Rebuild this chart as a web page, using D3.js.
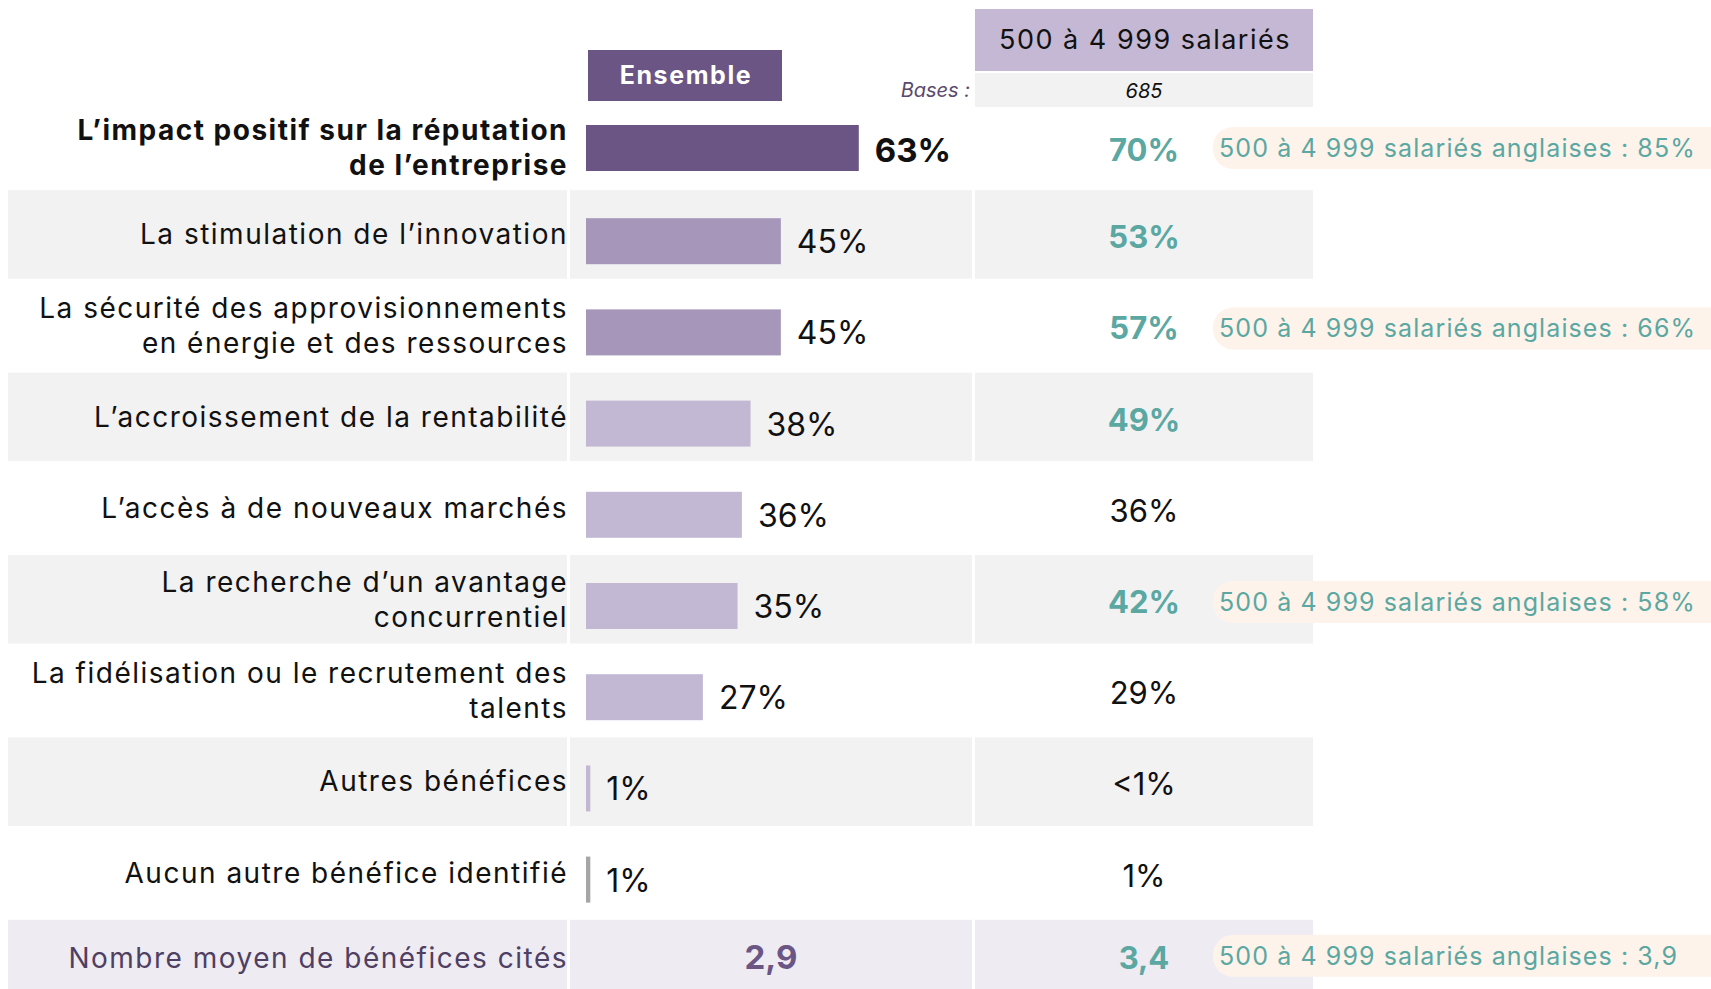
<!DOCTYPE html>
<html>
<head>
<meta charset="utf-8">
<script src="https://cdn.jsdelivr.net/npm/d3@7"></script>
<style>
  html, body { margin: 0; padding: 0; background: #ffffff; }
  svg { display: block; }
  text { font-family: Inter, "Open Sans", sans-serif; }
</style>
</head>
<body>
<svg id="chart" width="1711" height="989"></svg>
<script>
// ---------- DATA ----------
const categories = [
  "L’impact positif sur la réputation|de l’entreprise",
  "La stimulation de l’innovation",
  "La sécurité des approvisionnements|en énergie et des ressources",
  "L’accroissement de la rentabilité",
  "L’accès à de nouveaux marchés",
  "La recherche d’un avantage|concurrentiel",
  "La fidélisation ou le recrutement des|talents",
  "Autres bénéfices",
  "Aucun autre bénéfice identifié"
];
const ensembleValues = [63, 45, 45, 38, 36, 35, 27, 1, 1];
const segmentValues  = [70, 53, 57, 49, 36, 42, 29, 0.4, 1];
const segmentLabels  = ["70%", "53%", "57%", "49%", "36%", "42%", "29%", "<1%", "1%"];
const segmentSignificant = [true, true, true, true, false, true, false, false, false];
const barTone = ["dark", "mid", "mid", "light", "light", "light", "light", "light", "gray"];

const meanLabel = "Nombre moyen de bénéfices cités";
const meanEnsemble = 2.9;
const meanSegment = 3.4;

const headerEnsemble = "Ensemble";
const headerSegment = "500 à 4 999 salariés";
const basesLabel = "Bases :";
const basesSegment = "685";

const noteRows   = [0, 2, 5, 9];
const noteValues = ["85%", "66%", "58%", "3,9"];
const notePrefix = "500 à 4 999 salariés anglaises : ";

// ---------- STYLE ----------
const C = {
  dark: "#6B5585", mid: "#A696BA", light: "#C3B8D4", gray: "#A6A6A6",
  rowBg: "#F2F2F2", meanBg: "#EEEBF2", teal: "#5BA7A2", text: "#111111",
  meanText: "#4E3F63", pill: "#FDF3EA", headerLight: "#C4B8D4", basesText: "#5A4A6E"
};

const svg = d3.select("#chart");
const rowKeys = d3.range(10);
const y = d3.scaleBand().domain(rowKeys).range([99, 99 + 10 * 91.2]).padding(0);
const x = d3.scaleLinear().domain([0, 100]).range([586, 586 + 433]);

const cols = {
  label: [8, 567],
  ens: [570, 972],
  seg: [975, 1313]
};
const ensCenter = (cols.ens[0] + cols.ens[1]) / 2;
const segCenter = (cols.seg[0] + cols.seg[1]) / 2;
const fmtComma = v => d3.format(".1f")(v).replace(".", ",");

// ---------- ROW BACKGROUNDS ----------
const bgRows = rowKeys.filter(i => i % 2 === 1);
const bgG = svg.append("g");
bgRows.forEach(i => {
  Object.values(cols).forEach(c => {
    bgG.append("rect")
      .attr("x", c[0]).attr("width", c[1] - c[0])
      .attr("y", y(i)).attr("height", 88.5)
      .attr("fill", i === 9 ? C.meanBg : C.rowBg);
  });
});

// ---------- HEADERS ----------
svg.append("rect").attr("x", 588).attr("y", 50).attr("width", 194).attr("height", 51).attr("fill", C.dark);
svg.append("text").attr("x", 686).attr("y", 84).attr("text-anchor", "middle")
  .attr("font-size", 25).attr("font-weight", 700).attr("letter-spacing", 1.6)
  .attr("fill", "#fff").text(headerEnsemble);

svg.append("rect").attr("x", cols.seg[0]).attr("y", 9).attr("width", cols.seg[1] - cols.seg[0]).attr("height", 62).attr("fill", C.headerLight);
svg.append("text").attr("x", segCenter + 1).attr("y", 49).attr("text-anchor", "middle")
  .attr("font-size", 27).attr("letter-spacing", 1.5).attr("fill", C.text).text(headerSegment);

svg.append("rect").attr("x", cols.seg[0]).attr("y", 73).attr("width", cols.seg[1] - cols.seg[0]).attr("height", 34).attr("fill", C.rowBg);
svg.append("text").attr("x", segCenter).attr("y", 98).attr("text-anchor", "middle")
  .attr("font-size", 20).attr("font-style", "italic").attr("fill", C.text).text(basesSegment);
svg.append("text").attr("x", 970).attr("y", 97).attr("text-anchor", "end")
  .attr("font-size", 20).attr("font-style", "italic").attr("fill", C.basesText).text(basesLabel);

// ---------- CATEGORY LABELS ----------
const labelG = svg.append("g");
categories.forEach((cat, i) => {
  const lines = cat.split("|");
  const center = y(i) + 44.5 + (i === 0 ? 4 : 0);
  const first = center + 9.5 - (lines.length - 1) * 35 / 2;
  const t = labelG.append("text")
    .attr("text-anchor", "end")
    .attr("font-size", 28)
    .attr("letter-spacing", 1.5)
    .attr("font-weight", i === 0 ? 700 : 400)
    .attr("fill", C.text);
  lines.forEach((ln, k) => {
    t.append("tspan").attr("x", 568).attr("y", first + k * 35).text(ln);
  });
});
labelG.append("text").attr("x", 568).attr("y", y(9) + 48.5).attr("text-anchor", "end")
  .attr("font-size", 28).attr("letter-spacing", 1.5).attr("fill", C.meanText).text(meanLabel);

// ---------- BARS ----------
svg.append("g").selectAll("rect").data(ensembleValues).join("rect")
  .attr("x", x(0))
  .attr("y", (d, i) => y(i) + 28 - (i === 0 ? 2 : 0))
  .attr("width", d => x(d) - x(0))
  .attr("height", 46)
  .attr("fill", (d, i) => C[barTone[i]]);

svg.append("g").selectAll("text").data(ensembleValues).join("text")
  .attr("x", d => x(d) + 16)
  .attr("y", (d, i) => y(i) + 28 + 23 + 12)
  .attr("font-size", (d, i) => i === 0 ? 33 : 32)
  .attr("font-weight", (d, i) => i === 0 ? 700 : 400)
  .attr("fill", C.text)
  .text(d => d + "%");

// ---------- SEGMENT VALUES ----------
svg.append("g").selectAll("text").data(segmentValues).join("text")
  .attr("x", segCenter)
  .attr("y", (d, i) => y(i) + 58 + (i === 0 ? 4 : 0))
  .attr("text-anchor", "middle")
  .attr("font-size", 31)
  .attr("font-weight", (d, i) => segmentSignificant[i] ? 700 : 400)
  .attr("fill", (d, i) => segmentSignificant[i] ? C.teal : C.text)
  .text((d, i) => segmentLabels[i]);

// ---------- MEAN ROW ----------
svg.append("text").attr("x", ensCenter).attr("y", y(9) + 49).attr("text-anchor", "middle")
  .attr("font-size", 33).attr("font-weight", 700).attr("fill", C.dark).text(fmtComma(meanEnsemble));
svg.append("text").attr("x", segCenter).attr("y", y(9) + 49).attr("text-anchor", "middle")
  .attr("font-size", 31).attr("font-weight", 700).attr("fill", C.teal).text(fmtComma(meanSegment));

// ---------- NOTES ----------
const noteG = svg.append("g");
noteRows.forEach((r, k) => {
  const valueCenter = r === 9 ? y(9) + 36 : y(r) + 47 + (r === 0 ? 2 : 0);
  noteG.append("rect").attr("x", 1213).attr("y", valueCenter - 21).attr("width", 560).attr("height", 42)
    .attr("rx", 20).attr("fill", C.pill);
  noteG.append("text").attr("x", 1219).attr("y", valueCenter + 9)
    .attr("font-size", 25).attr("letter-spacing", 1.1).attr("fill", C.teal).text(notePrefix + noteValues[k]);
});
</script>
</body>
</html>
